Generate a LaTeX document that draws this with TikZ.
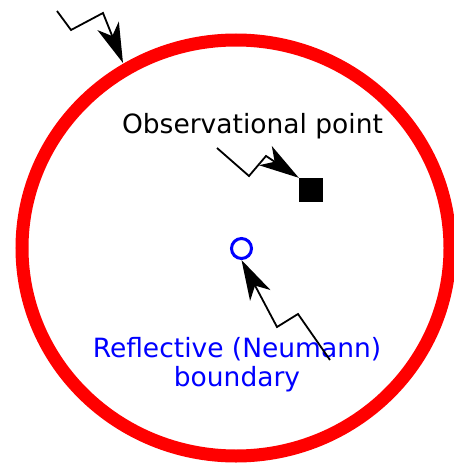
\documentclass[tikz,border=0pt]{standalone}
\usepackage{fontspec}
\setmainfont{DejaVu Sans}
\usetikzlibrary{arrows.meta}
\begin{document}
\begin{tikzpicture}[x=1pt,y=-1pt,
  zig/.style={draw=black,line width=1.8pt,line join=miter,
    -{Stealth[length=40pt,width=23pt,inset=11pt]}},
  lbl/.style={font=\fontsize{26.5}{29}\selectfont,align=center,inner sep=0pt}]
\useasboundingbox (0,0) rectangle (454,465);
% boundary
\draw[red,line width=13pt] (236,248) ellipse [x radius=214pt,y radius=208pt];
\coordinate (edge) at (123,63);
% observation point
\node[fill=black,minimum size=24pt,inner sep=0pt] (sq) at (311,190) {};
% blue source
\node[draw=blue,line width=3pt,circle,minimum size=20pt,inner sep=0pt] (bc) at (241.5,248.5) {};
% labels
\node[lbl,anchor=base] (obs) at (252.5,134) {Observational point};
\node[lbl,text=blue,anchor=base] (refl) at (237,386) {Reflective (Neumann)\\boundary};
% zigzag arrows
\coordinate (a0) at (57,11);
\coordinate (a1) at (71,30);
\coordinate (a2) at (103,13);
\draw[zig] (a0) -- (a1) -- (a2) -- (edge);
\coordinate (b0) at (217,148);
\coordinate (b1) at (249,176);
\coordinate (b2) at (266,156);
\draw[zig] (b0) -- (b1) -- (b2) -- (sq.north west);
\coordinate (c0) at (330,360);
\coordinate (c1) at (298,314);
\coordinate (c2) at (277,327);
\draw[zig] (c0) -- (c1) -- (c2) -- (bc.south);
\end{tikzpicture}
\end{document}
